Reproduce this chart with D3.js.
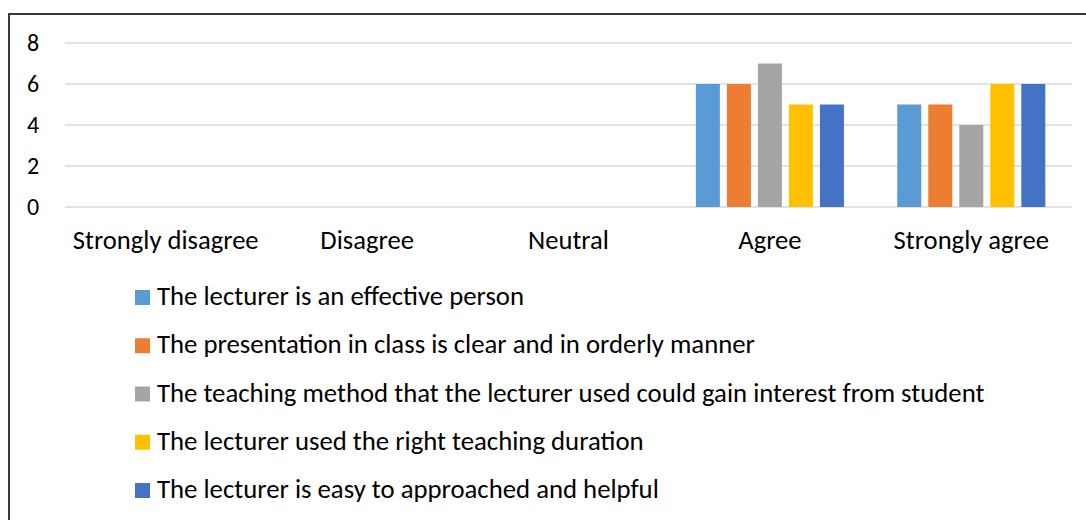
<!DOCTYPE html>
<html><head><meta charset="utf-8">
<script src="https://cdn.jsdelivr.net/npm/d3@7"></script>
<style>body{margin:0;background:#fff}svg{display:block}text{font-family:Carlito,Calibri,"Liberation Sans",sans-serif;fill:#000}</style>
</head><body>
<svg id="c" width="1086" height="520"></svg>
<script>
const categories = ["Strongly disagree","Disagree","Neutral","Agree","Strongly agree"];
const seriesNames = [
  "The lecturer is an effective person",
  "The presentation in class is clear and in orderly manner",
  "The teaching method that the lecturer used could gain interest from student",
  "The lecturer used the right teaching duration",
  "The lecturer is easy to approached and helpful"
];
const seriesColors = ["#5B9BD5","#ED7D31","#A5A5A5","#FFC000","#4472C4"];
const values = [
  [0,0,0,6,5],
  [0,0,0,6,5],
  [0,0,0,7,4],
  [0,0,0,5,6],
  [0,0,0,5,6]
];
const yTicks = [0,2,4,6,8];

const svg = d3.select("#c");
svg.append("rect").attr("width",1086).attr("height",520).attr("fill","#fff");
svg.append("path").attr("d","M9,520 V14 H1086").attr("fill","none").attr("stroke","#3a3a3a").attr("stroke-width",2);

const x = d3.scaleBand().domain(categories).range([65,1072]).paddingInner(0).paddingOuter(0);
const x1 = d3.scaleBand().domain(d3.range(seriesNames.length)).range([0,x.bandwidth()]).paddingInner(0.226).paddingOuter(0.86);
const y = d3.scaleLinear().domain([0,8]).range([207,43]);

svg.append("g").selectAll("line").data(yTicks).join("line")
  .attr("x1",65).attr("x2",1072).attr("y1",d=>y(d)).attr("y2",d=>y(d))
  .attr("stroke","#d9d9d9").attr("stroke-width",1.5);

svg.append("g").selectAll("text").data(yTicks).join("text")
  .attr("x",33).attr("y",d=>y(d)+7.5).attr("text-anchor","middle").style("font-size","24px").text(d=>d);

const g = svg.append("g");
categories.forEach((c,ci)=>{
  seriesNames.forEach((s,si)=>{
    const v = values[si][ci];
    if(v>0) g.append("rect").attr("x",x(c)+x1(si)).attr("width",x1.bandwidth())
      .attr("y",y(v)).attr("height",y(0)-y(v)).attr("fill",seriesColors[si]);
  });
});

const cl = svg.append("g").selectAll("text").data(categories).join("text")
  .attr("x",d=>x(d)+x.bandwidth()/2).attr("y",249).attr("text-anchor","middle")
  .style("font-size","21px").text(d=>d);
{
  const n = cl.nodes()[0]; const w = n.getComputedTextLength();
  const fs = 21*186/w; cl.style("font-size",fs+"px");
}

const lg = svg.append("g");
const rowY = d3.scaleLinear().domain([0,4]).range([297,490]);
seriesNames.forEach((s,i)=>{
  lg.append("rect").attr("x",135).attr("y",rowY(i)-7).attr("width",15).attr("height",15).attr("fill",seriesColors[i]);
});
const lt = lg.selectAll("text").data(seriesNames).join("text")
  .attr("x",157).attr("y",(d,i)=>rowY(i)+8).style("font-size","22px").text(d=>d);
{
  const n = lt.nodes()[2]; const w = n.getComputedTextLength();
  const fs = 22*828/w; lt.style("font-size",fs+"px");
}
</script>
</body></html>
